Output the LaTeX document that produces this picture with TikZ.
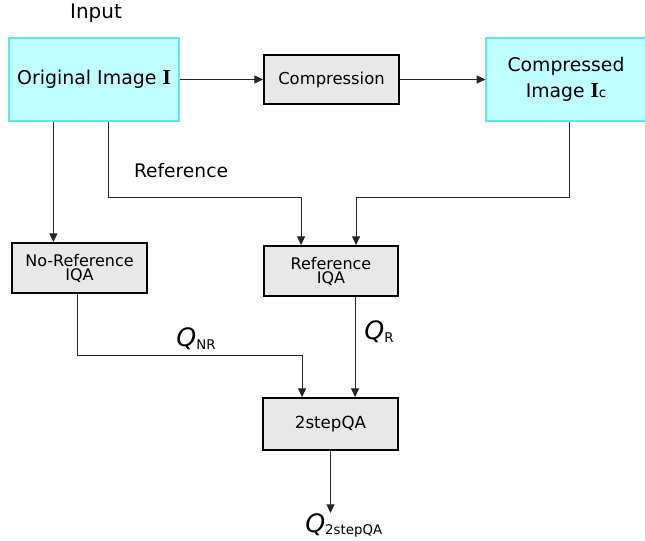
\documentclass[tikz,border=0pt]{standalone}
\usepackage{fontspec}
\setmainfont{DejaVu Sans}
\newfontfamily\serifbf{Liberation Serif}
\usepackage{tikz}
\usetikzlibrary{positioning, arrows.meta, calc}

\definecolor{imgfill}{RGB}{191,255,255}
\definecolor{imgdraw}{RGB}{90,232,240}
\definecolor{boxfill}{RGB}{232,232,232}

\tikzset{
  imgbox/.style={draw=imgdraw, fill=imgfill, line width=0.9pt, align=center, inner sep=0pt},
  procbox/.style={draw=black, fill=boxfill, line width=1.4pt, align=center, inner sep=0pt},
  arr/.style={-{Triangle[length=6.5pt,width=6pt]}, draw=black!85, line width=0.75pt},
  qlabel/.style={inner sep=0pt, font=\fontsize{19}{19}\selectfont\itshape}
}

\newcommand{\qsub}[1]{\raisebox{-0.2ex}{\fontsize{10}{10}\selectfont\upshape #1}}
\newcommand{\boldI}{{\serifbf\bfseries\fontsize{16}{16}\selectfont I}}

\begin{document}
\begin{tikzpicture}[x=0.75pt, y=-0.75pt]
  \useasboundingbox (0,0) rectangle (645,541);

  % boxes
  \node[imgbox, minimum width=127.5pt, minimum height=62.25pt, font=\fontsize{14.2}{17}\selectfont] (orig) at (94,79.5) {Original Image \boldI};
  \node[procbox, minimum width=101.25pt, minimum height=36.75pt, font=\fontsize{12.3}{15}\selectfont] (comp) at (331.5,79.5) {Compression};
  \node[imgbox, minimum width=120pt, minimum height=62.25pt, font=\fontsize{14.1}{19.5}\selectfont] (compd) at (566,79.5) {Compressed\\Image \boldI{\fontsize{10}{10}\selectfont c}};
  \node[procbox, minimum width=101.25pt, minimum height=37.5pt, font=\fontsize{12}{10.5}\selectfont] (nr) at (79.5,268) {No-Reference\\IQA};
  \node[procbox, minimum width=100.5pt, minimum height=37.5pt, font=\fontsize{12}{10.5}\selectfont] (ref) at (331,271) {Reference\\IQA};
  \node[procbox, minimum width=101.25pt, minimum height=39pt, font=\fontsize{12.5}{15}\selectfont] (tsqa) at (330.5,424) {2stepQA};

  % labels
  \node[font=\fontsize{15}{18}\selectfont] (input) at (96,13) {Input};
  \node[font=\fontsize{14}{17}\selectfont] (reflab) at (181,171) {Reference};
  \node[qlabel] (qnr) at (196,339) {Q\qsub{NR}};
  \node[qlabel] (qr) at (379,332) {Q\qsub{R}};
  \node[qlabel, anchor=north west] (qout) at (305,513) {Q\qsub{2stepQA}};

  % connectors
  \coordinate (oa) at ($(orig.south west)+(45,0)$);
  \coordinate (ob) at ($(orig.south west)+(100,0)$);
  \coordinate (ca) at ($(compd.south west)+(84,0)$);
  \coordinate (ra) at ($(ref.north west)+(38,0)$);
  \coordinate (rb) at ($(ref.north west)+(93,0)$);
  \coordinate (na) at ($(nr.south west)+(66,0)$);
  \coordinate (ta) at ($(tsqa.north west)+(40,0)$);
  \coordinate (tb) at ($(tsqa.north west)+(93,0)$);

  \draw[arr] (orig.east) -- (comp.west);
  \draw[arr] (comp.east) -- (compd.west);
  \draw[arr] (oa) -- (oa |- nr.north);
  \draw[arr] (ob) -- ++(0,76) -| (ra);
  \draw[arr] (ca) -- ++(0,76) -| (rb);
  \draw[arr] (na) -- ++(0,62) -| (ta);
  \draw[arr] (tb |- ref.south) -- (tb);
  \draw[arr] (tsqa.south) -- (tsqa.south |- qout.north);
\end{tikzpicture}
\end{document}
